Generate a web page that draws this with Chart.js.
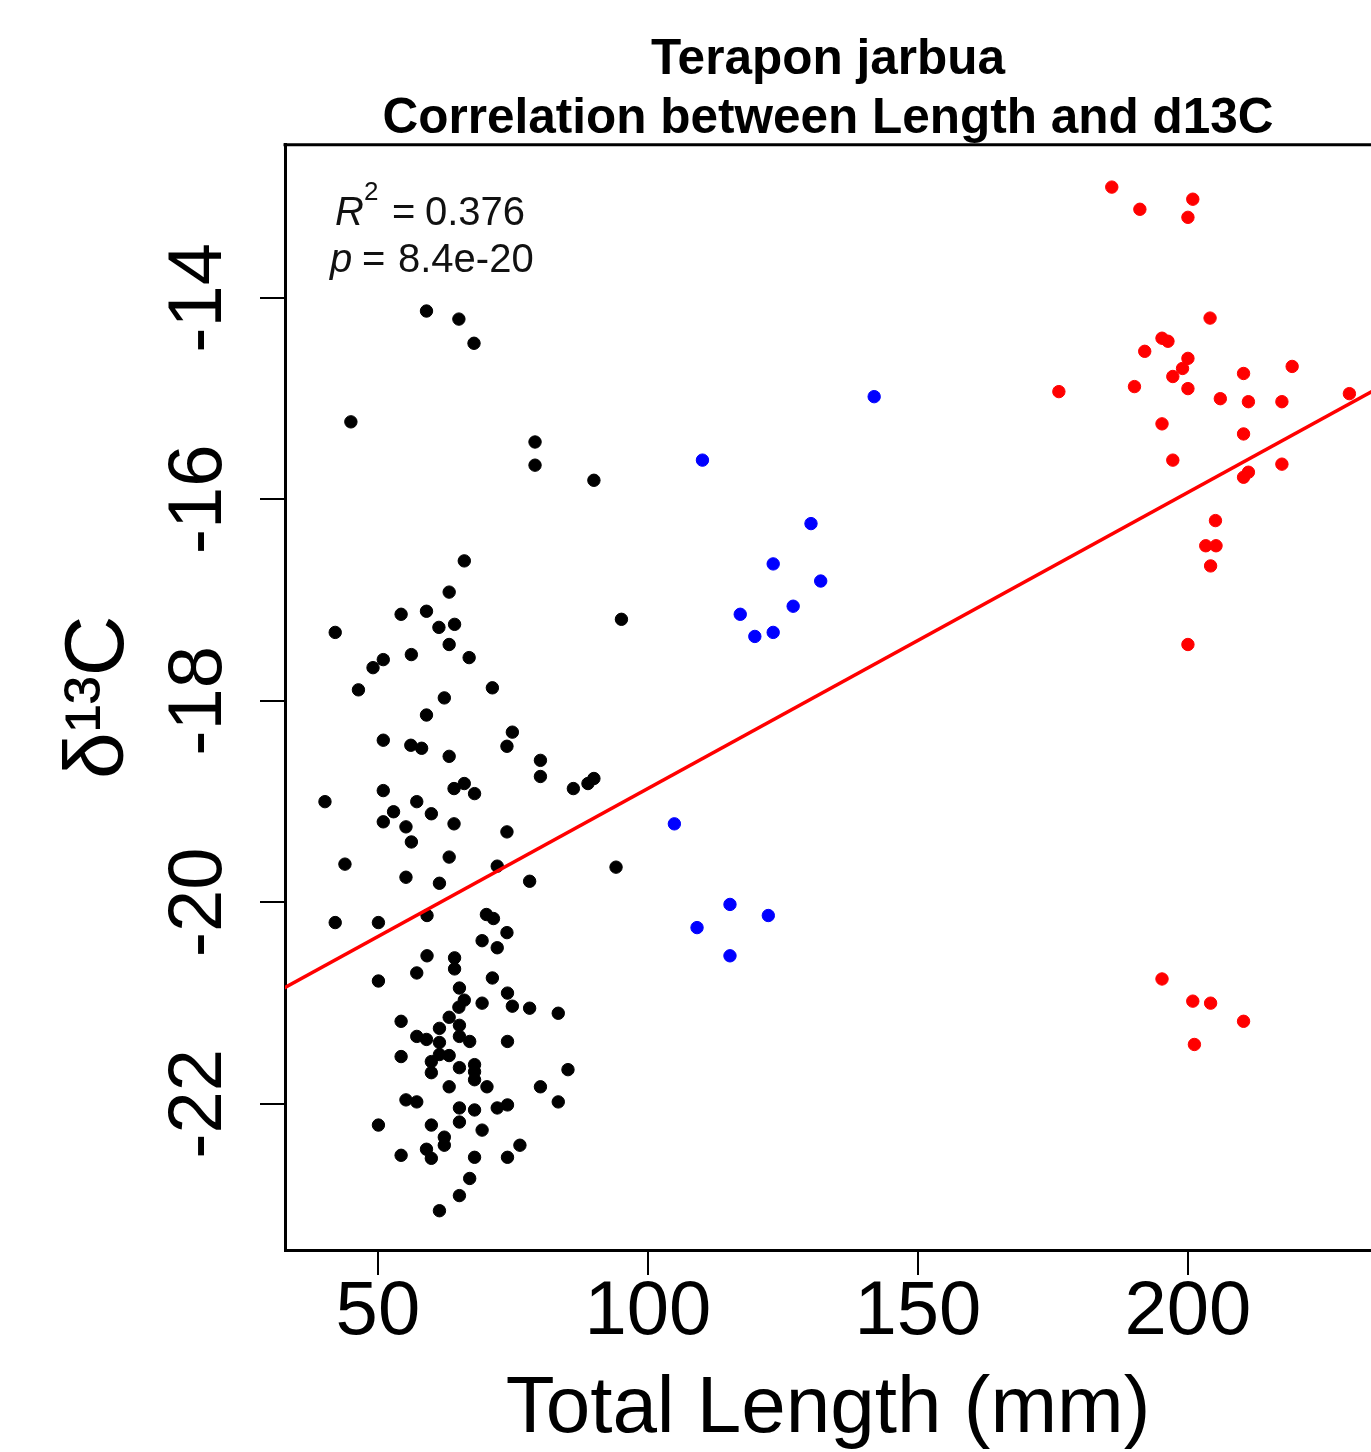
<!DOCTYPE html>
<html>
<head>
<meta charset="utf-8">
<script src="https://cdn.jsdelivr.net/npm/chart.js@4.4.1/dist/chart.umd.min.js"></script>
<style>
  body { margin: 0; background: #fff; overflow: hidden; }
  canvas { display: block; }
</style>
</head>
<body>
<canvas id="chart" width="1371" height="1452"></canvas>
<script>
//-----------------------------------------------------------------------------
// data: total length (mm) and d13C per fish, by size group
//-----------------------------------------------------------------------------
const blackLength = [
    59.0, 65.0, 67.8, 45.0, 79.1, 79.1, 90.0,
    66.0, 63.2, 54.3, 59.0, 61.3, 64.2, 42.1, 63.2, 56.2, 66.9, 51.0, 49.1, 46.4,
    71.2, 62.3, 59.0, 95.1, 74.9, 73.9, 51.0, 56.1, 58.1, 63.2, 80.1, 80.1, 90.0,
    88.9, 86.2, 66.0, 64.1, 67.9, 51.0, 40.2, 57.2, 52.9, 59.9, 51.0, 55.2, 64.1,
    56.2, 73.9, 63.2, 43.9, 72.1, 94.1, 55.2, 61.4, 78.1,
    42.1, 50.1, 59.1, 70.1, 71.4, 73.9, 69.3, 72.1, 59.1, 64.2, 64.2, 57.2, 50.1,
    71.2, 65.1, 74.0, 66.0, 65.0, 69.3, 74.9, 78.1, 83.4, 63.2, 54.3, 65.1, 61.4,
    57.2, 59.0, 61.4, 65.1, 67.0, 74.0, 54.3, 61.4, 63.2, 59.9, 65.1, 67.9, 67.9,
    67.9, 59.9, 85.2, 63.2, 70.2, 80.1, 55.2, 57.2, 65.1, 67.9, 72.1, 74.0, 83.4,
    50.1, 59.9, 65.1, 69.3, 62.3, 62.3, 76.3, 54.3, 59.0, 59.9, 67.9, 74.0, 67.0,
    65.1, 61.4
];
const blackD13C = [
    -14.13, -14.21, -14.45, -15.23, -15.43, -15.66, -15.81,
    -16.61, -16.92, -17.14, -17.11, -17.27, -17.24, -17.32, -17.44, -17.54, -17.57, -17.59, -17.67, -17.89,
    -17.87, -17.97, -18.14, -17.19, -18.31, -18.45, -18.39, -18.44, -18.47, -18.55, -18.59, -18.75, -18.77,
    -18.82, -18.87, -18.82, -18.87, -18.92, -18.89, -19.00, -19.00, -19.10, -19.12, -19.20, -19.25, -19.22,
    -19.40, -19.30, -19.55, -19.62, -19.64, -19.65, -19.75, -19.81, -19.79,
    -20.20, -20.20, -20.13, -20.12, -20.16, -20.30, -20.38, -20.45, -20.53, -20.55, -20.66, -20.70, -20.78,
    -20.75, -20.85, -20.90, -20.97, -21.04, -21.00, -21.03, -21.05, -21.10, -21.14, -21.18, -21.22, -21.25,
    -21.33, -21.36, -21.39, -21.33, -21.38, -21.38, -21.53, -21.51, -21.52, -21.58, -21.64, -21.61, -21.68,
    -21.76, -21.69, -21.66, -21.83, -21.83, -21.83, -21.96, -21.98, -22.04, -22.06, -22.04, -22.01, -21.98,
    -22.21, -22.21, -22.18, -22.26, -22.33, -22.41, -22.41, -22.51, -22.45, -22.54, -22.53, -22.53, -22.74,
    -22.91, -23.06
];

const blueLength = [141.9, 110.1, 130.2, 123.2, 132.0, 126.9, 117.1, 123.2, 119.8, 104.9, 115.2, 122.3, 109.1, 115.2];
const blueD13C   = [-14.98, -15.61, -16.24, -16.64, -16.81, -17.06, -17.14, -17.32, -17.36, -19.22, -20.02, -20.13, -20.25, -20.53];

const redLength = [
    185.9, 191.1, 200.9, 200.0, 204.1, 195.2, 196.3, 192.0, 200.0, 199.0, 197.2, 219.3, 210.3,
    176.1, 190.1, 200.0, 206.0, 211.2, 217.4, 229.9, 195.2, 210.3, 197.2, 217.4, 211.2, 210.3,
    205.1, 203.3, 205.2, 204.2, 200.0,
    195.2, 200.9, 204.2, 210.3, 201.2
];
const redD13C = [
    -12.90, -13.12, -13.02, -13.20, -14.20, -14.40, -14.43, -14.53, -14.60, -14.70, -14.78, -14.68, -14.75,
    -14.93, -14.88, -14.90, -15.00, -15.03, -15.03, -14.95, -15.25, -15.35, -15.61, -15.65, -15.73, -15.78,
    -16.21, -16.46, -16.46, -16.66, -17.44,
    -20.76, -20.98, -21.00, -21.18, -21.41
];

// linear fit shown in the figure
const fitIntercept = -21.81;
const fitSlope = 0.0294;
const rSquared = "0.376";
const pValue = "8.4e-20";

// axes
const xTicks = [50, 100, 150, 200];
const yTicks = [-22, -20, -18, -16, -14];
const xRange = [32.8, 233.9];
const yRange = [-23.45, -12.48];

const titleLines = ["Terapon jarbua", "Correlation between Length and d13C"];
const xTitle = "Total Length (mm)";
const yTitle = "δ¹³C";

const FONT = "'Liberation Sans', Arial, sans-serif";

//-----------------------------------------------------------------------------
// helpers
//-----------------------------------------------------------------------------
function toPoints(xs, ys){
    return xs.map((x, i) => ({x: x, y: ys[i]}));
}

function fitLine(){
    return [xRange[0] - 2, xRange[1] + 2].map(x => ({x: x, y: fitIntercept + fitSlope * x}));
}

// box top edge plus the R2 / p text in the upper left corner
const plotExtras = {
    id: "plotExtras",
    afterDraw(chart){
        const {ctx, chartArea} = chart;
        ctx.save();
        ctx.strokeStyle = "#000";
        ctx.lineWidth = 3;
        ctx.beginPath();
        ctx.moveTo(chartArea.left - 1.5, chartArea.top);
        ctx.lineTo(chartArea.right + 10, chartArea.top);
        ctx.stroke();

        const L = chartArea.left, T = chartArea.top;
        ctx.fillStyle = "#111";
        ctx.textBaseline = "alphabetic";
        ctx.textAlign = "left";
        // R^2 = ...
        ctx.font = `italic 40px ${FONT}`;
        ctx.fillText("R", L + 50, T + 80);
        ctx.font = `26px ${FONT}`;
        ctx.fillText("2", L + 79, T + 55);
        ctx.font = `40px ${FONT}`;
        ctx.fillText("=", L + 107, T + 80);
        ctx.fillText(rSquared, L + 140, T + 80);
        // p = ...
        ctx.font = `italic 40px ${FONT}`;
        ctx.fillText("p", L + 45, T + 127);
        ctx.font = `40px ${FONT}`;
        ctx.fillText("=", L + 77, T + 127);
        ctx.fillText(pValue, L + 113, T + 127);
        ctx.restore();
    }
};

//-----------------------------------------------------------------------------
// chart
//-----------------------------------------------------------------------------
const ctx = document.getElementById("chart").getContext("2d");
const chart = new Chart(ctx, {
    type: "scatter",
    data: {
        datasets: [
            {
                type: "line",
                label: "fit",
                data: fitLine(),
                borderColor: "#ff0000",
                borderWidth: 3.5,
                pointRadius: 0,
                fill: false
            },
            {
                label: "small",
                data: toPoints(blackLength, blackD13C),
                backgroundColor: "#000",
                borderColor: "#000",
                pointRadius: 6.2,
                borderWidth: 1
            },
            {
                label: "medium",
                data: toPoints(blueLength, blueD13C),
                backgroundColor: "#0000ff",
                borderColor: "#0000ff",
                pointRadius: 6.2,
                borderWidth: 1
            },
            {
                label: "large",
                data: toPoints(redLength, redD13C),
                backgroundColor: "#ff0000",
                borderColor: "#ff0000",
                pointRadius: 6.2,
                borderWidth: 1
            }
        ]
    },
    options: {
        responsive: false,
        animation: false,
        devicePixelRatio: 1,
        // no automatic room for the dots, the plot runs off the right edge
        layout: { padding: 0, autoPadding: false },
        plugins: {
            legend: { display: false },
            tooltip: { enabled: false },
            title: {
                display: true,
                text: titleLines,
                color: "#000",
                fullSize: false,
                font: { family: FONT, size: 49.5, weight: "bold", lineHeight: 1.21 },
                padding: { top: 30, bottom: -5 }
            }
        },
        scales: {
            x: {
                type: "linear",
                min: xRange[0],
                max: xRange[1],
                afterBuildTicks: scale => { scale.ticks = xTicks.map(v => ({value: v})); },
                afterFit: scale => {
                    scale.height = 202;
                    scale.paddingLeft = 0;
                    scale.paddingRight = 0;
                },
                grid: {
                    drawOnChartArea: false,
                    color: "#000",
                    lineWidth: 2,
                    tickLength: 25
                },
                border: { display: true, color: "#000", width: 3 },
                ticks: {
                    color: "#000",
                    padding: 0,
                    maxRotation: 0,
                    font: { family: FONT, size: 76, lineHeight: 1 }
                },
                title: {
                    display: true,
                    text: xTitle,
                    color: "#000",
                    font: { family: FONT, size: 80, lineHeight: 1 },
                    padding: { top: 0, bottom: 2 }
                }
            },
            y: {
                type: "linear",
                min: yRange[0],
                max: yRange[1],
                afterBuildTicks: scale => { scale.ticks = yTicks.map(v => ({value: v})); },
                afterFit: scale => {
                    scale.width = 285;
                    scale.paddingTop = 0;
                    scale.paddingBottom = 0;
                },
                grid: {
                    drawOnChartArea: false,
                    color: "#000",
                    lineWidth: 2,
                    tickLength: 25
                },
                border: { display: true, color: "#000", width: 3 },
                ticks: {
                    color: "#000",
                    padding: 5,
                    minRotation: 90,
                    maxRotation: 90,
                    crossAlign: "center",
                    font: { family: FONT, size: 76, lineHeight: 1 }
                },
                title: {
                    display: true,
                    text: yTitle,
                    color: "#000",
                    font: { family: FONT, size: 84, lineHeight: 1 },
                    padding: { top: 58, bottom: 0 }
                }
            }
        }
    },
    plugins: [plotExtras]
});
</script>
</body>
</html>
